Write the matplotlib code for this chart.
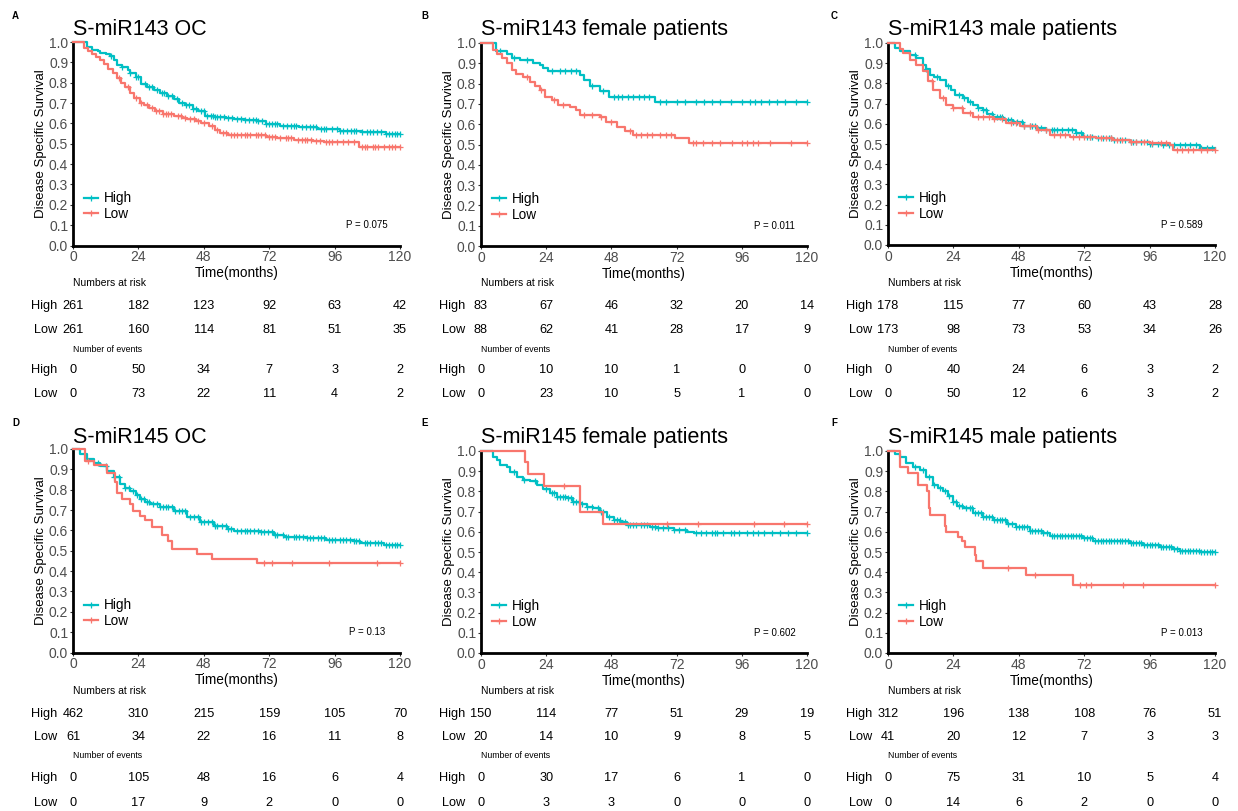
import numpy as np
import matplotlib
matplotlib.use('Agg')
import matplotlib.pyplot as plt
from matplotlib.lines import Line2D
from matplotlib.transforms import blended_transform_factory

plt.rcParams['font.family'] = ['Liberation Sans', 'DejaVu Sans']

HIGH_C = '#00BFC4'
LOW_C = '#F8766D'

# ---------------- data ----------------
time_ticks = [0, 24, 48, 72, 96, 120]
labels = ['A', 'B', 'C', 'D', 'E', 'F']
titles = ['S-miR143 OC', 'S-miR143 female patients', 'S-miR143 male patients',
          'S-miR145 OC', 'S-miR145 female patients', 'S-miR145 male patients']
pvals = ['P = 0.075', 'P = 0.011', 'P = 0.589', 'P = 0.13', 'P = 0.602', 'P = 0.013']

# Panel A
A_high_t = [0, 5, 7, 9, 10, 12, 13.5, 15, 16, 18, 20, 21, 23, 25, 27, 29.6, 32, 34.5, 37, 39, 41, 44, 46, 48.5, 52, 56, 59, 63, 67.5, 71, 76, 83, 89.5, 98, 106, 115]
A_high_s = [1.0, 0.975, 0.96, 0.955, 0.948, 0.94, 0.93, 0.91, 0.885, 0.875, 0.86, 0.85, 0.83, 0.795, 0.78, 0.765, 0.75, 0.737, 0.72, 0.70, 0.69, 0.672, 0.66, 0.638, 0.632, 0.626, 0.62, 0.615, 0.61, 0.598, 0.588, 0.58, 0.573, 0.565, 0.56, 0.55]
A_high_c = [14, 18, 21, 23, 24, 26.5, 28, 29, 31, 32.5, 33.5, 35, 36.5, 38, 40, 41.5, 42.5, 44, 45, 47, 48, 49, 50.5, 51.5, 52, 53, 54, 55.5, 57, 58.5, 60, 61.5, 63, 64.5, 66, 67, 68, 69.5, 71, 72, 73, 74, 75, 77, 78.5, 80, 81, 82, 84, 85.5, 87, 88, 89, 91, 92, 93, 95, 97, 98, 99, 100.5, 102, 103, 104, 106, 108, 109, 110, 111.5, 113, 115, 116, 117, 118, 119, 120]
A_low_t = [0, 4, 5.5, 7, 8.5, 10, 11.5, 13, 14.5, 16, 17.5, 19, 21, 22.5, 24.5, 26, 28, 30, 33, 37, 40, 42, 45, 47, 50, 52, 54, 57, 62, 71, 75, 81, 88, 92, 105]
A_low_s = [1.0, 0.97, 0.955, 0.94, 0.925, 0.91, 0.89, 0.865, 0.85, 0.825, 0.80, 0.78, 0.75, 0.725, 0.70, 0.69, 0.675, 0.66, 0.645, 0.637, 0.628, 0.62, 0.61, 0.60, 0.585, 0.57, 0.555, 0.545, 0.542, 0.535, 0.528, 0.52, 0.512, 0.508, 0.482]
A_low_c = [17, 20, 23, 25, 27, 29, 30.5, 31.5, 33, 34, 35, 36, 38.5, 39.5, 41, 43, 44.5, 46, 48, 51, 53, 55, 56, 58, 59, 60, 61.5, 63, 64, 65, 67, 68, 69, 70.5, 72, 73, 74, 76, 78, 79, 80, 82.5, 84, 85, 86, 87.5, 89, 90.5, 93, 94, 95, 97, 99, 101, 103, 106, 107, 108, 110, 111, 112, 114, 116, 117, 118, 120]
A_risk_high = [261, 182, 123, 92, 63, 42]
A_risk_low = [261, 160, 114, 81, 51, 35]
A_ev_high = [0, 50, 34, 7, 3, 2]
A_ev_low = [0, 73, 22, 11, 4, 2]

# Panel B
B_high_t = [0, 5.5, 9.5, 11.3, 14.4, 19.3, 21.7, 23, 24.8, 36.5, 38, 40, 43.9, 47, 64]
B_high_s = [1.0, 0.962, 0.947, 0.926, 0.914, 0.90, 0.893, 0.876, 0.863, 0.843, 0.82, 0.79, 0.766, 0.733, 0.708]
B_high_c = [7, 12, 17, 26, 29, 31, 33, 35, 41, 45, 49, 50.5, 52, 54, 56, 58, 60, 62, 66, 68, 72, 75, 79, 82, 85, 88, 92, 96, 99, 101, 103, 106, 109, 112, 116, 120]
B_low_t = [0, 4.5, 5.8, 7.6, 9.5, 11.3, 13, 15.6, 18, 20, 21.7, 23.6, 26, 28.5, 32.8, 35, 36.5, 43.9, 46, 50, 53, 56, 71.5, 76.4]
B_low_s = [1.0, 0.967, 0.945, 0.926, 0.90, 0.868, 0.848, 0.832, 0.81, 0.79, 0.77, 0.736, 0.72, 0.695, 0.687, 0.67, 0.646, 0.637, 0.613, 0.588, 0.567, 0.547, 0.53, 0.509]
B_low_c = [17, 22, 27, 30, 38, 41, 44, 48, 55, 57, 59, 61, 63, 66, 68, 70, 78, 79.3, 81.9, 85, 88, 92.4, 96, 98, 100, 102, 106.5, 114, 120]
B_risk_high = [83, 67, 46, 32, 20, 14]
B_risk_low = [88, 62, 41, 28, 17, 9]
B_ev_high = [0, 10, 10, 1, 0, 0]
B_ev_low = [0, 23, 10, 5, 1, 0]

# Panel C
C_high_t = [0, 2.4, 4.3, 8, 10.4, 12.9, 14, 15.3, 17, 19, 21.4, 23, 24.5, 27.5, 29.5, 31.2, 33, 34.9, 36.5, 38.5, 42.2, 45.9, 49.6, 54.5, 58, 69, 71.6, 76.5, 82.6, 88.7, 96, 101, 114.4]
C_high_s = [1.0, 0.975, 0.959, 0.942, 0.926, 0.893, 0.87, 0.843, 0.83, 0.818, 0.788, 0.765, 0.744, 0.727, 0.71, 0.694, 0.68, 0.669, 0.65, 0.636, 0.62, 0.607, 0.587, 0.579, 0.567, 0.554, 0.537, 0.529, 0.521, 0.512, 0.50, 0.493, 0.479]
C_high_c = [10, 14, 18, 22, 26, 28, 30, 33, 35, 36, 38, 40, 41, 42, 44, 45, 46, 47.5, 49, 50, 52, 53, 54, 56, 58, 60, 61, 62, 64, 66, 67.5, 69, 71, 73, 74, 75, 77, 79, 81, 82, 83, 85, 87, 89, 90, 91, 93, 95, 96, 97, 99, 101, 103, 105, 107, 109, 111, 113, 115, 117, 119]
C_low_t = [0, 4.3, 5.5, 8, 10.4, 12.9, 14.7, 16.5, 19, 21.4, 23.9, 27.5, 31.2, 38.5, 43.4, 48.3, 54.5, 59.4, 66.7, 76.5, 82.6, 88.7, 96, 103.5, 104.7]
C_low_s = [1.0, 0.97, 0.95, 0.917, 0.893, 0.86, 0.81, 0.769, 0.727, 0.694, 0.678, 0.653, 0.636, 0.623, 0.603, 0.587, 0.567, 0.545, 0.537, 0.529, 0.521, 0.512, 0.504, 0.496, 0.471]
C_low_c = [16, 20, 24, 27, 30, 33, 35, 37, 39, 42, 45, 47, 50, 52, 55, 58, 61, 63, 65, 68, 70, 72, 74, 78, 80, 82, 84, 86, 89, 91, 94, 97, 100, 102, 106, 108, 110, 112, 115, 117, 120]
C_risk_high = [178, 115, 77, 60, 43, 28]
C_risk_low = [173, 98, 73, 53, 34, 26]
C_ev_high = [0, 40, 24, 6, 3, 2]
C_ev_low = [0, 50, 12, 6, 3, 2]

# Panel D
D_high_t = [0, 2.7, 5.1, 7.6, 10, 12.5, 14.9, 17.4, 19, 21, 23, 24.7, 26.5, 28.4, 32, 37, 41.8, 46.7, 51.6, 56.5, 59, 68.7, 73.6, 77.3, 85.8, 93, 103, 105.5, 114]
D_high_s = [1.0, 0.975, 0.951, 0.931, 0.918, 0.894, 0.861, 0.828, 0.81, 0.796, 0.775, 0.755, 0.74, 0.73, 0.714, 0.693, 0.668, 0.64, 0.624, 0.608, 0.595, 0.592, 0.575, 0.567, 0.562, 0.554, 0.546, 0.538, 0.529]
D_high_c = [9, 12, 15, 17, 19, 20.5, 22, 23.5, 25, 26, 27, 28, 29.5, 31, 32, 33, 34, 35, 36.5, 37.5, 39, 40, 41, 43, 44.5, 46, 47, 48, 49.5, 51, 52, 53, 54.5, 56, 57, 58, 60, 61.5, 63, 64, 65, 66.5, 68, 69, 70, 71.5, 73, 74, 75, 77, 78, 79, 81, 82, 83, 84.5, 86, 87, 88, 90, 91, 92, 94, 95, 96, 98, 99, 100, 101.5, 103, 104, 105, 107, 108, 109, 111, 112, 113, 115, 116, 117, 118, 119, 120]
D_low_t = [0, 4.5, 7.6, 12.5, 15.5, 16, 18, 21, 22.2, 24.7, 26.5, 29, 32.6, 35, 36.3, 45.5, 51, 67.4]
D_low_s = [1.0, 0.943, 0.92, 0.88, 0.837, 0.785, 0.755, 0.73, 0.693, 0.673, 0.65, 0.616, 0.576, 0.55, 0.51, 0.485, 0.46, 0.44]
D_low_c = [5.5, 70, 73, 80.3, 93.8, 111.5, 120]
D_risk_high = [462, 310, 215, 159, 105, 70]
D_risk_low = [61, 34, 22, 16, 11, 8]
D_ev_high = [0, 105, 48, 16, 6, 4]
D_ev_low = [0, 17, 9, 2, 0, 0]

# Panel E
E_high_t = [0, 4.5, 5.8, 7, 9.5, 10.7, 13.1, 15.6, 18, 20.5, 23, 25.4, 27.9, 31.6, 34, 36.5, 39, 41.4, 43.9, 46.3, 48.8, 51.2, 53.7, 62.3, 64.7, 70.9, 75.8, 78.3]
E_high_s = [1.0, 0.97, 0.955, 0.93, 0.922, 0.898, 0.873, 0.857, 0.852, 0.832, 0.812, 0.79, 0.774, 0.766, 0.75, 0.736, 0.725, 0.717, 0.697, 0.675, 0.66, 0.647, 0.634, 0.626, 0.618, 0.61, 0.601, 0.593]
E_high_c = [12, 16, 20, 24, 26, 27, 28, 29, 30, 31, 32, 33, 34, 35, 36, 37, 39, 41, 43, 44, 45, 47, 49, 50, 51, 53, 54, 55, 56, 57, 59, 60, 61, 63, 64, 65, 67, 69, 71, 73, 75, 79, 81, 83, 85, 86, 87, 89, 92, 93, 95, 98, 100, 102, 104, 107, 110, 113, 116, 120]
E_low_t = [0, 16.2, 17.4, 23.2, 36.5, 45]
E_low_s = [1.0, 0.944, 0.887, 0.827, 0.70, 0.637]
E_low_c = [30.6, 68.4, 80, 100.4, 111.4, 120]
E_risk_high = [150, 114, 77, 51, 29, 19]
E_risk_low = [20, 14, 10, 9, 8, 5]
E_ev_high = [0, 30, 17, 6, 1, 0]
E_ev_low = [0, 3, 3, 0, 0, 0]

# Panel F
F_high_t = [0, 2.4, 4.3, 6.7, 9.2, 11.6, 14, 16.5, 18.5, 20.2, 22, 23.9, 25.5, 27.5, 31.2, 34.9, 38.6, 43.5, 47, 52, 57, 59.4, 66.7, 71.6, 75.3, 83.8, 88.7, 93.6, 99.8, 104.7, 107, 114.4]
F_high_s = [1.0, 0.985, 0.972, 0.939, 0.923, 0.906, 0.873, 0.832, 0.815, 0.8, 0.775, 0.75, 0.73, 0.717, 0.692, 0.675, 0.659, 0.638, 0.626, 0.604, 0.596, 0.58, 0.577, 0.568, 0.555, 0.552, 0.544, 0.535, 0.527, 0.516, 0.507, 0.502]
F_high_c = [10, 13, 15, 17, 19, 21, 22.5, 24, 25, 26, 27, 28.5, 30, 31, 32, 33, 34, 35, 36, 37, 38, 39, 40, 41, 42, 43, 44, 45.5, 47, 48, 49, 50, 51, 52, 53, 54, 55, 56, 57, 58.5, 60, 61, 62, 63, 64, 65, 66, 67, 68, 69, 70, 71, 72, 73, 74, 75, 76, 77, 78, 79, 80, 81, 82, 83, 84, 85, 86, 87, 88, 89, 90, 91, 92, 93, 94, 95, 96, 97, 98, 99, 100, 101, 102, 103, 104, 105, 106, 107, 108, 109, 110, 111, 112, 113, 114, 115, 116, 117, 118, 119, 120]
F_low_t = [0, 4.3, 7.3, 11, 14.3, 15, 15.5, 20.8, 21.4, 25.7, 27, 28.2, 31.8, 32.4, 34.9, 50.8, 68]
F_low_s = [1.0, 0.923, 0.89, 0.832, 0.8, 0.717, 0.684, 0.63, 0.6, 0.573, 0.552, 0.527, 0.486, 0.453, 0.42, 0.387, 0.338]
F_low_c = [44, 53.9, 70.5, 72.5, 74.5, 86.3, 93.6, 120]
F_risk_high = [312, 196, 138, 108, 76, 51]
F_risk_low = [41, 20, 12, 7, 3, 3]
F_ev_high = [0, 75, 31, 10, 5, 4]
F_ev_low = [0, 14, 6, 2, 0, 0]

curves = [
    (A_high_t, A_high_s, A_high_c, A_low_t, A_low_s, A_low_c),
    (B_high_t, B_high_s, B_high_c, B_low_t, B_low_s, B_low_c),
    (C_high_t, C_high_s, C_high_c, C_low_t, C_low_s, C_low_c),
    (D_high_t, D_high_s, D_high_c, D_low_t, D_low_s, D_low_c),
    (E_high_t, E_high_s, E_high_c, E_low_t, E_low_s, E_low_c),
    (F_high_t, F_high_s, F_high_c, F_low_t, F_low_s, F_low_c),
]
tables = [
    (A_risk_high, A_risk_low, A_ev_high, A_ev_low),
    (B_risk_high, B_risk_low, B_ev_high, B_ev_low),
    (C_risk_high, C_risk_low, C_ev_high, C_ev_low),
    (D_risk_high, D_risk_low, D_ev_high, D_ev_low),
    (E_risk_high, E_risk_low, E_ev_high, E_ev_low),
    (F_risk_high, F_risk_low, F_ev_high, F_ev_low),
]

# ---------------- layout (pixels) ----------------
W, H = 1238, 811
fig = plt.figure(figsize=(W / 100, H / 100), dpi=100)

rects = [(73, 42, 400, 245.5), (481, 43, 807, 246), (888, 43, 1215, 245),
         (73, 449, 400, 652.5), (481, 451, 807, 653), (888, 451, 1215, 653)]
letter_pos = [(12, 16), (421, 16), (831, 16), (12, 423), (421, 423), (831, 423)]
title_base = [35, 35, 35, 443, 443, 443]
table_rows = [[283, 306, 330, 349, 370, 394], [691, 714, 737, 756, 778, 803]]


def step_at(t, s, c):
    t = np.asarray(t, float)
    s = np.asarray(s, float)
    idx = np.searchsorted(t, np.asarray(c, float), side='right') - 1
    return s[idx]


for i in range(6):
    l, tp, r, b = rects[i]
    ax = fig.add_axes([l / W, 1 - b / H, (r - l) / W, (b - tp) / H])
    ht, hs, hc, lt, ls, lc = curves[i]
    for t, s, c, col in ((ht, hs, hc, HIGH_C), (lt, ls, lc, LOW_C)):
        tt = list(t) + [120]
        ss = list(s) + [s[-1]]
        ax.step(tt, ss, where='post', color=col, lw=1.6, zorder=3, clip_on=False)
        ax.plot(c, step_at(t, s, c), linestyle='none', marker='+', color=col,
                ms=4.5, mew=0.9, zorder=3, clip_on=False)
    ax.set_xlim(0, 120)
    ax.set_ylim(0, 1)
    ax.set_xticks(time_ticks)
    yt = np.round(np.arange(0, 1.01, 0.1), 1)
    ax.set_yticks(yt)
    ax.set_yticklabels(['%.1f' % v for v in yt])
    for sp in ('top', 'right'):
        ax.spines[sp].set_visible(False)
    for sp in ('left', 'bottom'):
        ax.spines[sp].set_linewidth(2.0)
        ax.spines[sp].set_color('black')
    ax.tick_params(axis='both', direction='out', length=2.5, width=0.8,
                   color='#333333', labelcolor='#4D4D4D', labelsize=10, pad=1)
    ax.set_xlabel('Time(months)', fontsize=9.8, labelpad=1.5)
    ax.set_ylabel('Disease Specific Survival', fontsize=9.5, labelpad=1)
    ax.patch.set_visible(False)

    handles = [Line2D([], [], color=HIGH_C, lw=1.6, marker='+', ms=4, mew=0.9),
               Line2D([], [], color=LOW_C, lw=1.6, marker='+', ms=4, mew=0.9)]
    ax.legend(handles, ['High', 'Low'], loc='lower left', bbox_to_anchor=(0.035, 0.12),
              frameon=False, handlelength=1.0, handletextpad=0.4, labelspacing=0.12,
              fontsize=9.8, borderaxespad=0, borderpad=0)
    ax.text(0.90, 0.10, pvals[i], transform=ax.transAxes, ha='center', va='center',
            fontsize=7)

    # title and panel letter
    fig.text(l / W, 1 - title_base[i] / H, titles[i], fontsize=15.5, ha='left',
             va='baseline')
    lx, ly = letter_pos[i]
    fig.text(lx / W, 1 - ly / H, labels[i], fontsize=7, fontweight='bold',
             ha='left', va='center')

    # tables
    rows = table_rows[i // 3]
    tr = blended_transform_factory(ax.transData, fig.transFigure)
    rh, rl, eh, el = tables[i]
    fig.text(l / W, 1 - rows[0] / H, 'Numbers at risk', fontsize=7.5, ha='left', va='center')
    fig.text(l / W, 1 - rows[3] / H, 'Number of events', fontsize=6.3, ha='left', va='center')
    for row_y, name, vals in ((rows[1], 'High', rh), (rows[2], 'Low', rl),
                              (rows[4], 'High', eh), (rows[5], 'Low', el)):
        fig.text((l - 16) / W, 1 - row_y / H, name, fontsize=9.2, ha='right', va='center')
        for tx, v in zip(time_ticks, vals):
            ax.text(tx, 1 - row_y / H, str(v), transform=tr, fontsize=9.2,
                    ha='center', va='center', clip_on=False)

fig.savefig('out.png', dpi=100)
